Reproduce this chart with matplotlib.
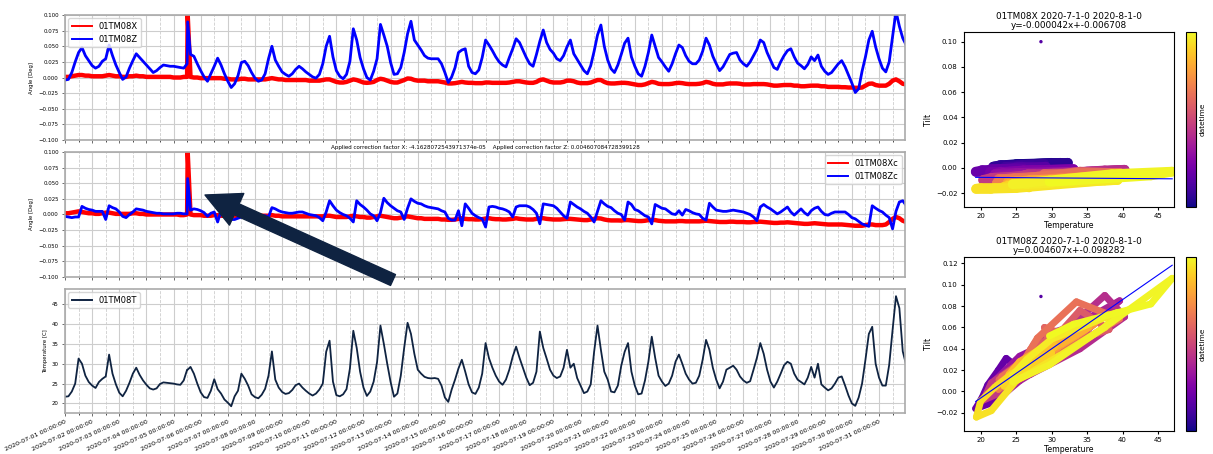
"""Tilt sensor 01TM08: raw / corrected angles, temperature and tilt-vs-temperature fits."""

import matplotlib

matplotlib.use("Agg")

import matplotlib.dates as mdates
import matplotlib.pyplot as plt
import numpy as np
import pandas as pd
from matplotlib.collections import LineCollection

START = pd.Timestamp("2020-07-01 00:00:00")
STEP_H = 3  # sampling step of the rows below (8 samples per day)

# temperature [C], one row per day (00h, 03h, ... 21h), 2020-07-01 .. 2020-07-31
temp_rows = [
    [21.7, 21.8, 23.0, 25.0, 31.3, 30.0, 27.0, 25.4],
    [24.5, 23.9, 25.4, 26.2, 26.8, 32.3, 27.5, 24.8],
    [22.7, 21.8, 23.2, 25.2, 27.5, 29.0, 27.2, 25.8],
    [24.7, 23.8, 23.5, 23.8, 24.9, 25.3, 25.2, 25.1],
    [25.0, 24.8, 24.7, 25.8, 28.5, 29.2, 27.5, 25.0],
    [22.8, 21.6, 21.4, 23.2, 26.1, 23.6, 22.5, 21.0],
    [20.2, 19.3, 21.8, 23.2, 27.5, 26.2, 24.5, 22.3],
    [21.6, 21.3, 22.2, 23.7, 27.0, 33.1, 26.0, 24.0],
    [22.9, 22.4, 22.6, 23.4, 24.6, 25.0, 24.0, 23.2],
    [22.5, 22.0, 22.5, 23.5, 25.0, 33.0, 35.8, 25.5],
    [22.1, 21.8, 22.3, 23.6, 28.8, 38.3, 34.0, 28.0],
    [24.0, 21.9, 23.0, 25.5, 30.4, 39.6, 35.0, 30.0],
    [25.4, 21.7, 22.5, 27.0, 34.0, 40.3, 37.5, 32.5],
    [28.5, 27.5, 26.7, 26.4, 26.3, 26.4, 26.2, 24.5],
    [21.5, 20.4, 23.5, 26.0, 28.8, 31.0, 28.0, 24.8],
    [22.8, 22.4, 24.0, 27.5, 35.2, 31.4, 29.0, 27.0],
    [25.5, 24.7, 26.0, 28.5, 31.8, 34.3, 31.5, 29.0],
    [26.5, 24.6, 25.2, 28.0, 38.1, 34.0, 31.3, 28.5],
    [27.0, 26.4, 26.8, 29.0, 33.5, 29.0, 30.0, 26.4],
    [24.5, 22.6, 23.0, 24.8, 33.0, 39.6, 33.5, 28.0],
    [26.0, 23.0, 22.8, 24.5, 29.5, 33.0, 35.2, 28.0],
    [24.5, 22.3, 22.5, 25.8, 30.5, 36.8, 31.5, 27.0],
    [25.5, 24.4, 25.0, 27.0, 30.5, 32.3, 30.0, 27.5],
    [26.0, 25.0, 25.2, 27.0, 31.0, 36.0, 33.5, 29.0],
    [26.0, 23.8, 25.5, 28.5, 29.0, 29.5, 28.5, 26.8],
    [25.8, 25.2, 25.6, 28.5, 31.5, 35.2, 32.5, 28.5],
    [25.5, 24.0, 25.5, 27.5, 29.6, 30.5, 30.0, 27.5],
    [26.0, 25.4, 24.8, 26.5, 29.2, 26.5, 30.0, 24.8],
    [24.0, 23.3, 23.8, 25.0, 26.5, 26.8, 24.5, 22.0],
    [20.0, 19.4, 21.5, 25.0, 31.0, 37.5, 39.3, 30.0],
    [26.5, 24.5, 24.5, 29.7, 38.5, 47.0, 44.0, 33.1],
]
temp_end = 29.7

# raw tilt X [deg]
tilt_x_rows = [
    [0.001, 0.001, 0.002, 0.003, 0.004, 0.004, 0.003, 0.003],
    [0.002, 0.002, 0.002, 0.002, 0.003, 0.004, 0.003, 0.002],
    [0.002, 0.001, 0.001, 0.002, 0.002, 0.003, 0.002, 0.002],
    [0.001, 0.001, 0.001, 0.001, 0.001, 0.001, 0.001, 0.001],
    [0.000, 0.000, 0.000, 0.001, 0.001, 0.001, 0.000, 0.000],
    [-0.001, -0.001, -0.001, -0.001, -0.001, -0.001, -0.001, -0.002],
    [-0.002, -0.003, -0.003, -0.003, -0.002, -0.002, -0.003, -0.003],
    [-0.003, -0.003, -0.003, -0.003, -0.002, -0.001, -0.002, -0.003],
    [-0.003, -0.004, -0.004, -0.004, -0.004, -0.004, -0.004, -0.004],
    [-0.005, -0.005, -0.005, -0.005, -0.004, -0.003, -0.003, -0.005],
    [-0.007, -0.008, -0.008, -0.007, -0.005, -0.003, -0.004, -0.006],
    [-0.008, -0.0085, -0.008, -0.007, -0.004, -0.002, -0.003, -0.005],
    [-0.007, -0.008, -0.008, -0.006, -0.004, -0.0015, -0.002, -0.004],
    [-0.005, -0.005, -0.005, -0.006, -0.006, -0.006, -0.006, -0.007],
    [-0.008, -0.0095, -0.0095, -0.009, -0.008, -0.007, -0.008, -0.0085],
    [-0.0085, -0.009, -0.009, -0.009, -0.008, -0.008, -0.0085, -0.0085],
    [-0.0085, -0.0085, -0.0085, -0.008, -0.007, -0.006, -0.006, -0.007],
    [-0.008, -0.0085, -0.0085, -0.007, -0.004, -0.003, -0.005, -0.007],
    [-0.008, -0.008, -0.008, -0.007, -0.005, -0.005, -0.006, -0.008],
    [-0.009, -0.009, -0.009, -0.008, -0.006, -0.004, -0.004, -0.007],
    [-0.009, -0.0095, -0.0095, -0.009, -0.0085, -0.0085, -0.009, -0.010],
    [-0.011, -0.012, -0.012, -0.011, -0.009, -0.007, -0.008, -0.010],
    [-0.0105, -0.0105, -0.0105, -0.010, -0.009, -0.0085, -0.009, -0.010],
    [-0.0105, -0.0105, -0.0105, -0.010, -0.009, -0.007, -0.008, -0.010],
    [-0.011, -0.011, -0.011, -0.010, -0.0095, -0.0095, -0.0095, -0.010],
    [-0.011, -0.011, -0.011, -0.0105, -0.0105, -0.0105, -0.0105, -0.011],
    [-0.012, -0.013, -0.013, -0.0125, -0.012, -0.012, -0.012, -0.013],
    [-0.013, -0.014, -0.014, -0.0135, -0.013, -0.013, -0.013, -0.014],
    [-0.014, -0.015, -0.015, -0.015, -0.015, -0.0155, -0.0155, -0.016],
    [-0.016, -0.0165, -0.0165, -0.016, -0.013, -0.010, -0.0096, -0.012],
    [-0.013, -0.013, -0.013, -0.010, -0.005, -0.003, -0.006, -0.010],
]
tilt_x_end = -0.011

# raw tilt Z [deg]
tilt_z_rows = [
    [-0.004, -0.003, 0.008, 0.025, 0.040, 0.048, 0.035, 0.027],
    [0.019, 0.015, 0.018, 0.026, 0.030, 0.052, 0.035, 0.020],
    [0.008, -0.003, 0.001, 0.015, 0.027, 0.038, 0.032, 0.026],
    [0.020, 0.014, 0.008, 0.011, 0.016, 0.020, 0.019, 0.018],
    [0.018, 0.017, 0.016, 0.015, 0.022, 0.037, 0.034, 0.022],
    [0.011, 0.001, -0.006, 0.006, 0.018, 0.031, 0.020, 0.006],
    [-0.006, -0.016, -0.010, 0.003, 0.024, 0.026, 0.019, 0.008],
    [-0.001, -0.006, -0.004, 0.006, 0.030, 0.050, 0.028, 0.018],
    [0.009, 0.005, 0.002, 0.006, 0.013, 0.018, 0.014, 0.009],
    [0.005, 0.001, -0.001, 0.005, 0.022, 0.050, 0.066, 0.033],
    [0.011, 0.002, -0.002, 0.005, 0.026, 0.078, 0.060, 0.032],
    [0.014, 0.000, -0.004, 0.010, 0.030, 0.085, 0.068, 0.050],
    [0.024, 0.005, 0.006, 0.016, 0.040, 0.070, 0.090, 0.060],
    [0.052, 0.044, 0.035, 0.031, 0.030, 0.030, 0.030, 0.022],
    [0.008, -0.008, 0.001, 0.016, 0.040, 0.044, 0.046, 0.018],
    [0.008, 0.006, 0.012, 0.032, 0.060, 0.052, 0.043, 0.033],
    [0.025, 0.020, 0.017, 0.032, 0.046, 0.062, 0.056, 0.044],
    [0.032, 0.022, 0.018, 0.037, 0.058, 0.076, 0.056, 0.045],
    [0.039, 0.030, 0.027, 0.035, 0.049, 0.060, 0.038, 0.029],
    [0.020, 0.011, 0.006, 0.019, 0.042, 0.068, 0.084, 0.050],
    [0.028, 0.014, 0.008, 0.020, 0.037, 0.055, 0.063, 0.033],
    [0.018, 0.006, 0.002, 0.018, 0.040, 0.068, 0.050, 0.032],
    [0.025, 0.017, 0.010, 0.022, 0.038, 0.052, 0.048, 0.035],
    [0.026, 0.022, 0.022, 0.028, 0.042, 0.063, 0.052, 0.034],
    [0.022, 0.011, 0.017, 0.027, 0.037, 0.039, 0.040, 0.028],
    [0.022, 0.018, 0.025, 0.035, 0.045, 0.060, 0.056, 0.040],
    [0.028, 0.016, 0.013, 0.025, 0.035, 0.043, 0.046, 0.033],
    [0.023, 0.019, 0.014, 0.021, 0.033, 0.027, 0.036, 0.018],
    [0.010, 0.005, 0.008, 0.015, 0.022, 0.027, 0.017, 0.004],
    [-0.009, -0.024, -0.018, 0.010, 0.033, 0.060, 0.074, 0.049],
    [0.030, 0.015, 0.009, 0.025, 0.065, 0.106, 0.082, 0.063],
]
tilt_z_end = 0.052

# corrected tilt X [deg]
tilt_xc_rows = [
    [0.002, 0.002, 0.003, 0.004, 0.005, 0.004, 0.003, 0.002],
    [0.002, 0.001, 0.001, 0.002, 0.003, 0.003, 0.002, 0.001],
    [0.001, 0.001, 0.001, 0.001, 0.002, 0.002, 0.001, 0.001],
    [0.000, 0.000, 0.000, 0.000, 0.000, 0.000, 0.000, 0.000],
    [0.000, 0.000, -0.001, -0.001, 0.000, 0.000, -0.001, -0.001],
    [-0.001, -0.002, -0.002, -0.002, -0.001, -0.001, -0.002, -0.002],
    [-0.002, -0.002, -0.002, -0.002, -0.001, -0.001, -0.002, -0.002],
    [-0.002, -0.002, -0.002, -0.002, -0.002, -0.001, -0.002, -0.002],
    [-0.003, -0.003, -0.003, -0.003, -0.003, -0.003, -0.003, -0.003],
    [-0.003, -0.003, -0.003, -0.003, -0.003, -0.002, -0.002, -0.003],
    [-0.004, -0.004, -0.004, -0.004, -0.003, -0.002, -0.003, -0.004],
    [-0.004, -0.005, -0.005, -0.004, -0.003, -0.002, -0.003, -0.004],
    [-0.005, -0.006, -0.006, -0.005, -0.004, -0.003, -0.004, -0.005],
    [-0.006, -0.006, -0.007, -0.007, -0.007, -0.007, -0.007, -0.008],
    [-0.008, -0.0085, -0.0085, -0.008, -0.007, -0.006, -0.007, -0.0075],
    [-0.0075, -0.008, -0.008, -0.0075, -0.0065, -0.006, -0.007, -0.0075],
    [-0.0075, -0.008, -0.008, -0.0075, -0.007, -0.006, -0.007, -0.0075],
    [-0.008, -0.008, -0.008, -0.007, -0.006, -0.006, -0.007, -0.0075],
    [-0.008, -0.008, -0.008, -0.0075, -0.007, -0.007, -0.0075, -0.008],
    [-0.0085, -0.009, -0.009, -0.008, -0.007, -0.006, -0.0065, -0.008],
    [-0.009, -0.0095, -0.0095, -0.0095, -0.0097, -0.009, -0.009, -0.0095],
    [-0.010, -0.0105, -0.0105, -0.010, -0.009, -0.0085, -0.009, -0.010],
    [-0.0105, -0.011, -0.011, -0.011, -0.011, -0.0105, -0.0105, -0.011],
    [-0.011, -0.011, -0.011, -0.011, -0.0105, -0.010, -0.0105, -0.011],
    [-0.0115, -0.012, -0.012, -0.012, -0.0115, -0.0115, -0.012, -0.012],
    [-0.012, -0.0125, -0.0125, -0.012, -0.012, -0.0115, -0.012, -0.0125],
    [-0.013, -0.0135, -0.0135, -0.013, -0.013, -0.0125, -0.013, -0.0135],
    [-0.014, -0.0145, -0.015, -0.015, -0.0145, -0.014, -0.0145, -0.015],
    [-0.0155, -0.016, -0.016, -0.016, -0.016, -0.016, -0.0165, -0.017],
    [-0.0175, -0.018, -0.018, -0.018, -0.017, -0.016, -0.016, -0.017],
    [-0.017, -0.017, -0.016, -0.012, -0.007, -0.004, -0.006, -0.010],
]
tilt_xc_end = -0.012

# corrected tilt Z [deg]
tilt_zc_rows = [
    [-0.003, -0.004, -0.005, -0.004, -0.004, 0.013, 0.010, 0.008],
    [0.007, 0.005, 0.005, 0.005, -0.008, 0.014, 0.011, 0.009],
    [0.004, -0.003, -0.005, 0.000, 0.004, 0.009, 0.008, 0.007],
    [0.005, 0.004, 0.003, 0.002, 0.002, 0.001, 0.001, 0.001],
    [0.001, 0.002, 0.002, 0.001, 0.001, 0.007, 0.009, 0.008],
    [0.006, 0.003, -0.003, 0.002, 0.004, -0.012, 0.006, -0.002],
    [-0.005, -0.008, -0.008, -0.006, -0.004, -0.002, -0.002, -0.003],
    [-0.003, -0.003, -0.002, -0.002, -0.004, 0.011, 0.009, 0.006],
    [0.004, 0.003, 0.002, 0.002, 0.003, 0.004, 0.004, 0.002],
    [0.000, -0.001, -0.002, -0.005, -0.010, 0.004, 0.022, 0.014],
    [0.007, 0.003, 0.000, -0.002, -0.006, -0.012, 0.022, 0.016],
    [0.012, 0.007, 0.001, -0.002, -0.010, 0.003, 0.026, 0.019],
    [0.014, 0.010, 0.006, 0.004, -0.008, 0.010, 0.025, 0.021],
    [0.018, 0.017, 0.014, 0.012, 0.011, 0.010, 0.009, 0.006],
    [0.004, -0.006, -0.009, -0.009, 0.006, -0.018, 0.017, 0.010],
    [0.002, -0.002, -0.005, -0.007, -0.020, 0.012, 0.013, 0.012],
    [0.010, 0.009, 0.007, 0.004, -0.004, 0.012, 0.014, 0.014],
    [0.014, 0.012, 0.008, 0.002, -0.015, 0.017, 0.016, 0.015],
    [0.014, 0.010, 0.004, -0.002, -0.006, 0.020, 0.016, 0.012],
    [0.009, 0.005, 0.002, -0.004, -0.012, 0.005, 0.022, 0.017],
    [0.013, 0.011, 0.006, 0.002, 0.000, -0.009, 0.020, 0.016],
    [0.008, 0.006, 0.002, -0.002, -0.004, -0.015, 0.016, 0.013],
    [0.010, 0.009, 0.005, 0.001, 0.000, 0.006, -0.001, 0.008],
    [0.006, 0.003, 0.001, 0.000, -0.006, -0.009, 0.018, 0.012],
    [0.007, 0.006, 0.005, 0.005, 0.006, 0.007, 0.006, 0.005],
    [0.004, 0.002, 0.000, -0.004, -0.010, 0.012, 0.016, 0.012],
    [0.009, 0.005, 0.001, 0.004, 0.008, 0.012, 0.004, -0.001],
    [0.004, 0.009, 0.003, -0.001, 0.006, 0.010, 0.012, 0.005],
    [0.000, -0.001, 0.002, 0.004, 0.004, 0.004, 0.004, 0.000],
    [-0.005, -0.007, -0.011, -0.015, -0.017, -0.019, 0.014, 0.010],
    [0.0065, 0.004, -0.001, -0.005, -0.023, 0.005, 0.020, 0.022],
]
tilt_zc_end = 0.0145

# single glitch sample on 2020-07-05 ~12:30
spike_hour = 108.5
spike_temp = 28.5
spike_x, spike_z, spike_xc, spike_zc = 0.100, 0.089, 0.100, 0.0575

# regression results shown in the scatter titles
fit_x = (-0.000042, -0.006708)
fit_z = (0.004607, -0.098282)
factor_x = "-4.1628072543971374e-05"
factor_z = "0.004607084728399128"

NAVY = "#0f2341"
GRID = "#cdcdcd"
SMALL = 3.9


def series(rows, end, spike):
    vals = [v for row in rows for v in row] + [end]
    return np.insert(np.array(vals, dtype=float), spike_pos, spike)


hours = np.arange(0, len(temp_rows) * 24 + 1, STEP_H, dtype=float)
spike_pos = int(np.searchsorted(hours, spike_hour))
hours = np.insert(hours, spike_pos, spike_hour)
times = START + pd.to_timedelta(hours, unit="h")

temp = series(temp_rows, temp_end, spike_temp)
tilt_x = series(tilt_x_rows, tilt_x_end, spike_x)
tilt_z = series(tilt_z_rows, tilt_z_end, spike_z)
tilt_xc = series(tilt_xc_rows, tilt_xc_end, spike_xc)
tilt_zc = series(tilt_zc_rows, tilt_zc_end, spike_zc)

fig = plt.figure(figsize=(12.13, 4.54), dpi=100)

left, width = 0.0536, 0.6925
ax1 = fig.add_axes([left, 0.6916, width, 0.2753])
ax2 = fig.add_axes([left, 0.3899, width, 0.2753], sharex=ax1)
ax3 = fig.add_axes([left, 0.0903, width, 0.2731], sharex=ax1)

ax1.plot(times, tilt_x, color="red", lw=3.2, label="01TM08X")
ax1.plot(times, tilt_z, color="blue", lw=2.0, label="01TM08Z")
ax2.plot(times, tilt_xc, color="red", lw=3.2, label="01TM08Xc")
ax2.plot(times, tilt_zc, color="blue", lw=2.0, label="01TM08Zc")
ax3.plot(times, temp, color=NAVY, lw=1.3, label="01TM08T")

for ax in (ax1, ax2):
    ax.set_ylim(-0.1, 0.1)
    ax.set_yticks(np.arange(-0.1, 0.1001, 0.025))
    ax.set_ylabel("Angle [Deg]", fontsize=SMALL, labelpad=3)
ax3.set_ylim(17.6, 48.8)
ax3.set_yticks(np.arange(20, 46, 5))
ax3.set_ylabel("Temperature [C]", fontsize=SMALL, labelpad=3)
ax2.set_title(f"Applied correction factor X: {factor_x}    Applied correction factor Z: {factor_z}",
              fontsize=4.1, pad=2)

ax3.set_xlim(START, pd.Timestamp("2020-07-31 23:00:00"))
ax3.xaxis.set_major_locator(mdates.DayLocator())
ax3.xaxis.set_minor_locator(mdates.HourLocator(byhour=[12]))
ax3.xaxis.set_major_formatter(mdates.DateFormatter("%Y-%m-%d %H:%M:%S"))

for ax in (ax1, ax2, ax3):
    ax.grid(which="major", color=GRID, lw=0.8)
    ax.grid(which="minor", axis="x", color=GRID, lw=0.6, ls="--")
    ax.tick_params(labelsize=SMALL, length=2.5, width=0.6, color="#555555", pad=2)
    ax.tick_params(which="minor", length=1.5, width=0.5)
    for sp in ax.spines.values():
        sp.set_color("#aaaaaa")
        sp.set_linewidth(1.2)
for ax in (ax1, ax2):
    plt.setp(ax.get_xticklabels(), visible=False)
plt.setp(ax3.get_xticklabels(), rotation=25, ha="right", rotation_mode="anchor", fontsize=4.6)

for ax, loc in ((ax1, "upper left"), (ax2, "upper right"), (ax3, "upper left")):
    leg = ax.legend(loc=loc, fontsize=6, handlelength=2.4, borderaxespad=0.4)
    for line in leg.get_lines():
        line.set_linewidth(1.4)

# annotation arrow pointing at the glitch
ax3.annotate("", xy=(205, 259), xycoords="figure pixels",
             xytext=(393, 174), textcoords="figure pixels",
             arrowprops=dict(arrowstyle="simple,head_length=2.5,head_width=2.5,tail_width=0.86",
                             fc=NAVY, ec=NAVY, shrinkA=0, shrinkB=0),
             annotation_clip=False, zorder=20)

# tilt vs temperature scatters, coloured by sample time
color_idx = np.arange(len(times))
keep = (color_idx[:-1] != spike_pos) & (color_idx[1:] != spike_pos)
scatter_specs = [
    ([0.7947, 0.5441, 0.1731, 0.3855], tilt_x, fit_x, "01TM08X", (-0.031, 0.1077),
     np.arange(-0.02, 0.101, 0.02), 7.0),
    ([0.7947, 0.0507, 0.1731, 0.3833], tilt_z, fit_z, "01TM08Z", (-0.037, 0.126),
     np.arange(-0.02, 0.121, 0.02), 5.0),
]
for rect, tilt, (slope, icpt), name, ylim, yticks, band_w in scatter_specs:
    ax = fig.add_axes(rect)
    pts = np.column_stack([temp, tilt])
    segs = np.stack([pts[:-1], pts[1:]], axis=1)[keep]
    track = LineCollection(segs, cmap="plasma", linewidths=band_w, capstyle="round")
    track.set_array(color_idx[:-1][keep])
    ax.add_collection(track)
    sc = ax.scatter(temp, tilt, c=color_idx, cmap="plasma", s=6, linewidths=0)
    t_line = np.array([temp.min(), temp.max()])
    ax.plot(t_line, slope * t_line + icpt, color="blue", lw=0.8)
    ax.set_xlim(17.65, 47.25)
    ax.set_ylim(*ylim)
    ax.set_yticks(yticks)
    ax.set_title(f"{name} 2020-7-1-0 2020-8-1-0\ny={slope:.6f}x+{icpt:.6f}", fontsize=6.4, pad=3,
                 linespacing=1.0)
    ax.set_xlabel("Temperature", fontsize=5.6, labelpad=1)
    ax.set_ylabel("Tilt", fontsize=5.6, labelpad=2)
    ax.tick_params(labelsize=5, length=2.5, pad=2)
    cax = fig.add_axes([0.9777, rect[1], 0.0082, rect[3]])
    cb = fig.colorbar(sc, cax=cax)
    cb.set_ticks([])
    cb.set_label("datetime", fontsize=5.3, labelpad=3)

fig.savefig("out.png", dpi=100)
plt.close(fig)
